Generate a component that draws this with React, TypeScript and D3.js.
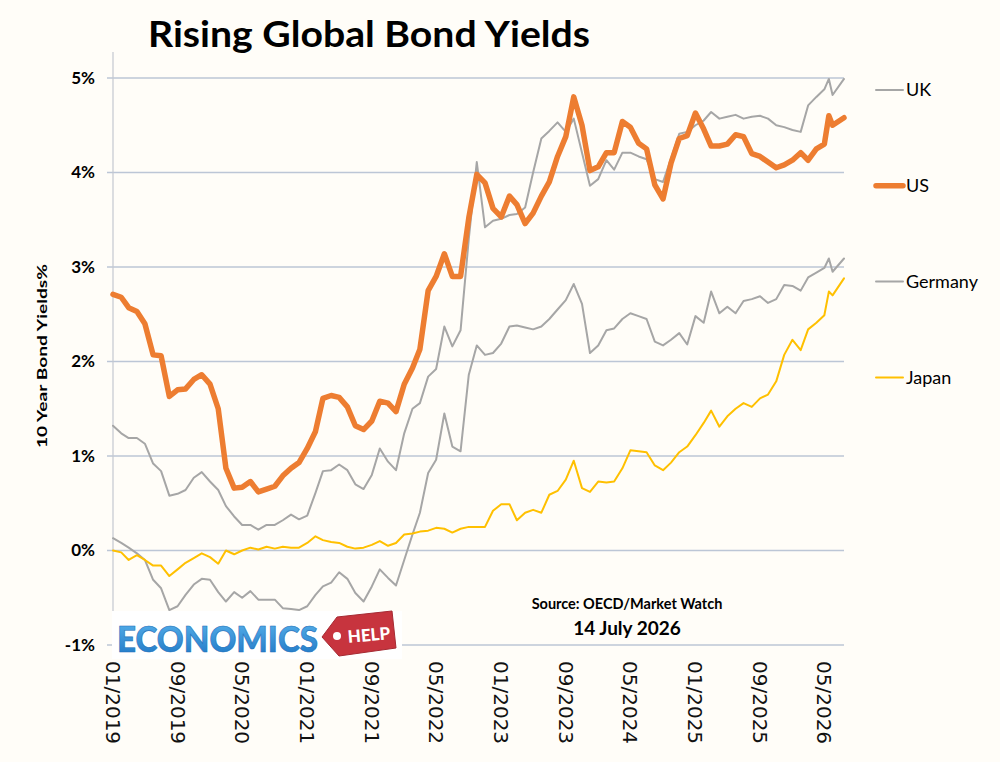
import React from "react";
import * as d3 from "d3";

const W = 1000;
const H = 762;

// monthly readings Jan 2019 – Jun 2026, an extra mid-May 2026 point and the 14 July 2026 reading
const monthStarts = d3.timeMonth.range(new Date(2019, 0, 1), new Date(2026, 6, 1));
const dates: Date[] = [
  ...monthStarts.slice(0, 89),
  new Date(2026, 4, 18),
  monthStarts[89],
  new Date(2026, 6, 14),
];

const ukYields = [
  1.32, 1.24, 1.19, 1.19, 1.13, 0.92, 0.84, 0.58, 0.6, 0.64, 0.77, 0.83,
  0.73, 0.64, 0.47, 0.36, 0.27, 0.27, 0.22, 0.27, 0.27, 0.32, 0.38, 0.33,
  0.37, 0.61, 0.84, 0.85, 0.91, 0.85, 0.7, 0.65, 0.8, 1.08, 0.94, 0.85,
  1.24, 1.5, 1.56, 1.84, 1.92, 2.37, 2.16, 2.33, 3.3, 4.11, 3.42, 3.49,
  3.51, 3.55, 3.56, 3.63, 4.0, 4.36, 4.44, 4.53, 4.43, 4.57, 4.21, 3.86,
  3.93, 4.13, 4.03, 4.21, 4.21, 4.17, 4.14, 3.93, 3.9, 4.15, 4.41, 4.43,
  4.5, 4.55, 4.64, 4.57, 4.59, 4.61, 4.57, 4.59, 4.6, 4.57, 4.5, 4.48,
  4.45, 4.43, 4.71, 4.8, 4.88, 4.99, 4.82, 4.99,
];

const usYields = [
  2.71, 2.68, 2.57, 2.53, 2.4, 2.07, 2.06, 1.63, 1.7, 1.71, 1.81, 1.86,
  1.76, 1.5, 0.87, 0.66, 0.67, 0.73, 0.62, 0.65, 0.68, 0.79, 0.87, 0.93,
  1.08, 1.26, 1.61, 1.64, 1.62, 1.52, 1.32, 1.28, 1.37, 1.58, 1.56, 1.47,
  1.76, 1.93, 2.13, 2.75, 2.9, 3.14, 2.9, 2.9, 3.52, 3.98, 3.89, 3.62,
  3.53, 3.75, 3.66, 3.46, 3.57, 3.75, 3.9, 4.17, 4.38, 4.8, 4.5, 4.02,
  4.06, 4.21, 4.21, 4.54, 4.48, 4.31, 4.25, 3.87, 3.72, 4.1, 4.36, 4.39,
  4.63, 4.46, 4.28, 4.28, 4.3, 4.4, 4.38, 4.2, 4.17, 4.11, 4.05, 4.08,
  4.13, 4.21, 4.13, 4.25, 4.3, 4.6, 4.5, 4.58,
];

const germanyYields = [
  0.13, 0.08, 0.03, -0.03, -0.1, -0.31, -0.4, -0.63, -0.59, -0.47, -0.36, -0.3,
  -0.31, -0.44, -0.54, -0.44, -0.5, -0.43, -0.52, -0.52, -0.52, -0.61, -0.62, -0.63,
  -0.59, -0.47, -0.38, -0.34, -0.23, -0.3, -0.45, -0.54, -0.38, -0.2, -0.29, -0.37,
  -0.1, 0.17, 0.4, 0.82, 0.96, 1.45, 1.1, 1.05, 1.86, 2.17, 2.07, 2.09,
  2.19, 2.37, 2.38, 2.36, 2.34, 2.37, 2.45, 2.55, 2.65, 2.82, 2.61, 2.09,
  2.17, 2.33, 2.35, 2.45, 2.51, 2.48, 2.45, 2.21, 2.17, 2.23, 2.3, 2.18,
  2.48, 2.41, 2.74, 2.51, 2.58, 2.51, 2.64, 2.66, 2.69, 2.62, 2.66, 2.81,
  2.8, 2.75, 2.89, 2.94, 2.99, 3.09, 2.95, 3.09,
];

const japanYields = [
  0.0, -0.02, -0.1, -0.05, -0.1, -0.16, -0.16, -0.27, -0.2, -0.13, -0.08, -0.03,
  -0.07, -0.14, 0.0, -0.04, 0.0, 0.03, 0.01, 0.04, 0.02, 0.04, 0.03, 0.03,
  0.08, 0.15, 0.11, 0.09, 0.08, 0.04, 0.02, 0.03, 0.06, 0.1, 0.05, 0.08,
  0.17, 0.18, 0.2, 0.21, 0.24, 0.23, 0.19, 0.23, 0.25, 0.25, 0.25, 0.42,
  0.49, 0.49, 0.32, 0.4, 0.43, 0.4, 0.59, 0.63, 0.75, 0.95, 0.66, 0.62,
  0.73, 0.72, 0.73, 0.87, 1.06, 1.05, 1.04, 0.9, 0.85, 0.93, 1.04, 1.1,
  1.22, 1.35, 1.48, 1.31, 1.42, 1.5, 1.56, 1.52, 1.61, 1.65, 1.79, 2.07,
  2.23, 2.12, 2.34, 2.41, 2.49, 2.74, 2.7, 2.88,
];

const yTicks = [-1, 0, 1, 2, 3, 4, 5];
const xTickLabels = [
  "01/2019", "09/2019", "05/2020", "01/2021", "09/2021", "05/2022",
  "01/2023", "09/2023", "05/2024", "01/2025", "09/2025", "05/2026",
];

const series = [
  { name: "UK", values: ukYields, color: "#a6a6a6", width: 2 },
  { name: "US", values: usYields, color: "#ed7d31", width: 5.5 },
  { name: "Germany", values: germanyYields, color: "#a6a6a6", width: 2 },
  { name: "Japan", values: japanYields, color: "#ffc000", width: 2 },
];

const margin = { top: 78, right: 156, bottom: 117, left: 113 };

export default function App() {
  const x = d3
    .scaleTime()
    .domain([dates[0], dates[dates.length - 1]])
    .range([margin.left, W - margin.right]);
  const y = d3.scaleLinear().domain([-1, 5]).range([H - margin.bottom, margin.top]);
  const parseTick = d3.timeParse("%m/%Y");
  const fmtPct = (d: number) => `${d}%`;

  const line = (vals: number[]) =>
    d3
      .line<number>()
      .x((_, i) => x(dates[i]))
      .y((d) => y(d))(vals) || "";

  const legendX = 876;
  const legendY = (i: number) => 90 + i * 95.8;

  return (
    <div>
      <style>{`body{margin:0;background:#fffdf8}`}</style>
      <svg width={W} height={H} style={{ display: "block", background: "#fffdf8" }}>
        <text
          x={369}
          y={47}
          textAnchor="middle"
          fontFamily="Lato, sans-serif"
          fontWeight={700}
          fontSize={36}
          textLength={442}
          lengthAdjust="spacingAndGlyphs"
          fill="#000"
        >
          Rising Global Bond Yields
        </text>

        {/* gridlines and y labels */}
        {yTicks.map((t) => (
          <g key={t}>
            <line
              x1={margin.left - 6}
              x2={W - margin.right}
              y1={y(t)}
              y2={y(t)}
              stroke="#bcc6d6"
              strokeWidth={1.3}
            />
            <text
              x={95}
              y={y(t)}
              dy="0.35em"
              textAnchor="end"
              fontFamily="Lato, sans-serif"
              fontWeight={700}
              fontSize={17}
              fill="#000"
            >
              {fmtPct(t)}
            </text>
          </g>
        ))}
        <line
          x1={margin.left}
          x2={margin.left}
          y1={52}
          y2={y(-1) + 6}
          stroke="#c4c8d0"
          strokeWidth={1.2}
        />

        <text
          transform={`translate(47, ${356}) rotate(-90)`}
          textAnchor="middle"
          fontFamily="Lato, sans-serif"
          fontWeight={700}
          fontSize={14}
          textLength={184}
          lengthAdjust="spacingAndGlyphs"
          fill="#000"
        >
          10 Year Bond Yields%
        </text>

        {/* x tick labels */}
        {xTickLabels.map((lab) => {
          const px = x(parseTick(lab) as Date);
          return (
            <text
              key={lab}
              transform={`translate(${px}, 661) rotate(90)`}
              dominantBaseline="central"
              fontFamily="DejaVu Sans, sans-serif"
              fontSize={20}
              fill="#111"
            >
              {lab}
            </text>
          );
        })}

        {/* series */}
        {series.map((s) => (
          <path
            key={s.name}
            d={line(s.values)}
            fill="none"
            stroke={s.color}
            strokeWidth={s.width}
            strokeLinejoin="round"
            strokeLinecap="round"
          />
        ))}

        {/* legend */}
        {series.map((s, i) => (
          <g key={s.name}>
            <line
              x1={legendX}
              x2={legendX + 27}
              y1={legendY(i)}
              y2={legendY(i)}
              stroke={s.color}
              strokeWidth={s.width}
              strokeLinecap="round"
            />
            <text
              x={legendX + 30}
              y={legendY(i)}
              dy="0.35em"
              fontFamily="Lato, sans-serif"
              fontSize={18}
              fill="#000"
            >
              {s.name}
            </text>
          </g>
        ))}

        {/* source note */}
        <text
          x={627}
          y={609}
          textAnchor="middle"
          fontFamily="Lato, sans-serif"
          fontWeight={700}
          fontSize={14.5}
          fill="#000"
        >
          Source: OECD/Market Watch
        </text>
        <text
          x={627}
          y={635}
          textAnchor="middle"
          fontFamily="Lato, sans-serif"
          fontWeight={700}
          fontSize={19}
          fill="#000"
        >
          14 July 2026
        </text>

        {/* logo */}
        <defs>
          <linearGradient id="econBlue" x1="0" y1="0" x2="0" y2="1">
            <stop offset="0%" stopColor="#5cb6ee" />
            <stop offset="100%" stopColor="#1c74c4" />
          </linearGradient>
        </defs>
        <rect x={112} y={611} width={290} height={48} fill="#ffffff" />
        <text
          x={117}
          y={652}
          fontFamily="Lato, sans-serif"
          fontWeight={900}
          fontSize={36}
          textLength={201}
          lengthAdjust="spacingAndGlyphs"
          fill="url(#econBlue)"
          stroke="#1f6fb8"
          strokeWidth={0.6}
        >
          ECONOMICS
        </text>
        <polygon
          points="322,637 337,617 392,611 396,648 339,656"
          fill="#c7343e"
          stroke="#a52a33"
          strokeWidth={1}
        />
        <circle cx={337} cy={636} r={4} fill="#ffffff" />
        <text
          x={369}
          y={641}
          textAnchor="middle"
          transform="rotate(-5, 369, 636)"
          fontFamily="Lato, sans-serif"
          fontWeight={900}
          fontSize={17}
          fill="#ffffff"
        >
          HELP
        </text>
      </svg>
    </div>
  );
}
